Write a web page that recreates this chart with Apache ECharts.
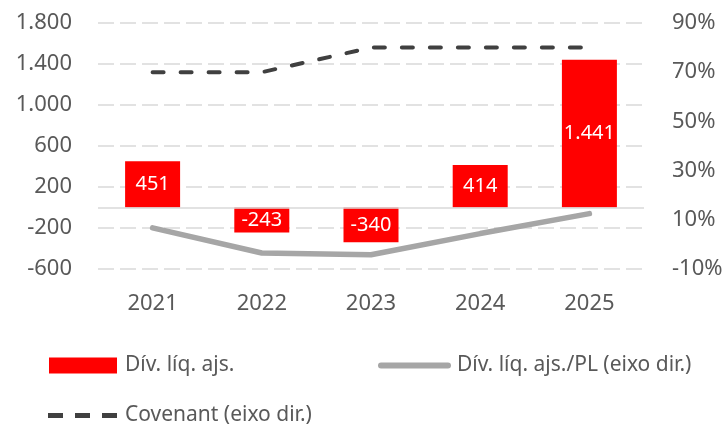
<!DOCTYPE html>
<html><head><meta charset="utf-8">
<script src="https://cdn.jsdelivr.net/npm/echarts@6/dist/echarts.min.js"></script>
<style>html,body{margin:0;padding:0;background:#fff}#c{width:728px;height:425px}</style>
</head><body><div id="c"></div>
<script>
var categories = ['2021','2022','2023','2024','2025'];
var divLiq = [451, -243, -340, 414, 1441];
var divPL = [6.7, -3.5, -4.2, 4.4, 12.5];
var covenant = [70, 70, 80, 80, 80];
var leftMin = -600, leftMax = 1800, leftInterval = 400;
var rightMin = -10, rightMax = 90, rightInterval = 20;

function fmt(v){
  var s = Math.abs(v).toString().replace(/\B(?=(\d{3})+(?!\d))/g, '.');
  return (v < 0 ? '-' : '') + s;
}
var font = 'Noto Sans';
var txt = '#595959';
var legText = {fontFamily: font, fontSize: 21, color: txt, padding: [0,0,0,3]};
var chart = echarts.init(document.getElementById('c'));
chart.setOption({
  animation: false,
  textStyle: {fontFamily: font},
  grid: {left: 98, right: 84, top: 23, bottom: 156},
  legend: [
    {left: 49, top: 355, padding: 0, itemWidth: 68, itemHeight: 16,
     data: [{name: 'Dív. líq. ajs.', icon: 'rect'}], textStyle: legText},
    {left: 378, top: 355, padding: 0, itemWidth: 73, itemHeight: 6,
     data: [{name: 'Dív. líq. ajs./PL (eixo dir.)', icon: 'path://M3,0H70A3,3 0 0 1 70,6H3A3,3 0 0 1 3,0Z'}],
     textStyle: {fontFamily: font, fontSize: 21, color: txt, padding: [0,0,0,1]}},
    {left: 48, top: 405, padding: 0, itemWidth: 69, itemHeight: 5,
     data: [{name: 'Covenant (eixo dir.)', icon: 'path://M0,0H15V5H0Z M27,0H42V5H27Z M54,0H69V5H54Z'}],
     textStyle: legText}
  ],
  xAxis: {
    type: 'category', data: categories,
    axisLine: {show: false, onZero: false}, axisTick: {show: false},
    axisLabel: {color: txt, fontSize: 22, fontFamily: font, margin: 24}
  },
  yAxis: [
    {type: 'value', min: leftMin, max: leftMax, interval: leftInterval,
     axisLabel: {color: txt, fontSize: 22, fontFamily: font, margin: 26, formatter: fmt},
     splitLine: {lineStyle: {color: '#d9d9d9', type: [16, 6], width: 1.5}},
     axisLine: {show: false}, axisTick: {show: false}},
    {type: 'value', min: rightMin, max: rightMax, interval: rightInterval, position: 'right',
     axisLabel: {color: txt, fontSize: 22, fontFamily: font, margin: 28, formatter: '{value}%'},
     splitLine: {show: false}, axisLine: {show: false}, axisTick: {show: false}}
  ],
  series: [
    {name: 'Dív. líq. ajs.', type: 'bar', data: divLiq, barWidth: 55,
     itemStyle: {color: '#ff0000'},
     label: {show: true, position: 'inside', color: '#fff', fontSize: 20, fontFamily: font, formatter: function(p){return fmt(p.value);}},
     markLine: {silent: true, symbol: 'none', label: {show: false},
       lineStyle: {color: '#d9d9d9', type: 'solid', width: 1.5},
       data: [{yAxis: 0}]},
     z: 2},
    {name: 'Dív. líq. ajs./PL (eixo dir.)', type: 'line', yAxisIndex: 1, data: divPL,
     symbol: 'none', lineStyle: {color: '#a6a6a6', width: 5.5, cap: 'round'}, itemStyle: {color: '#a6a6a6'}, z: 3},
    {name: 'Covenant (eixo dir.)', type: 'line', yAxisIndex: 1, data: covenant,
     symbol: 'none', lineStyle: {color: '#404040', width: 4, type: [11, 17], cap: 'round'}, itemStyle: {color: '#404040'}, z: 3}
  ]
});
</script></body></html>
